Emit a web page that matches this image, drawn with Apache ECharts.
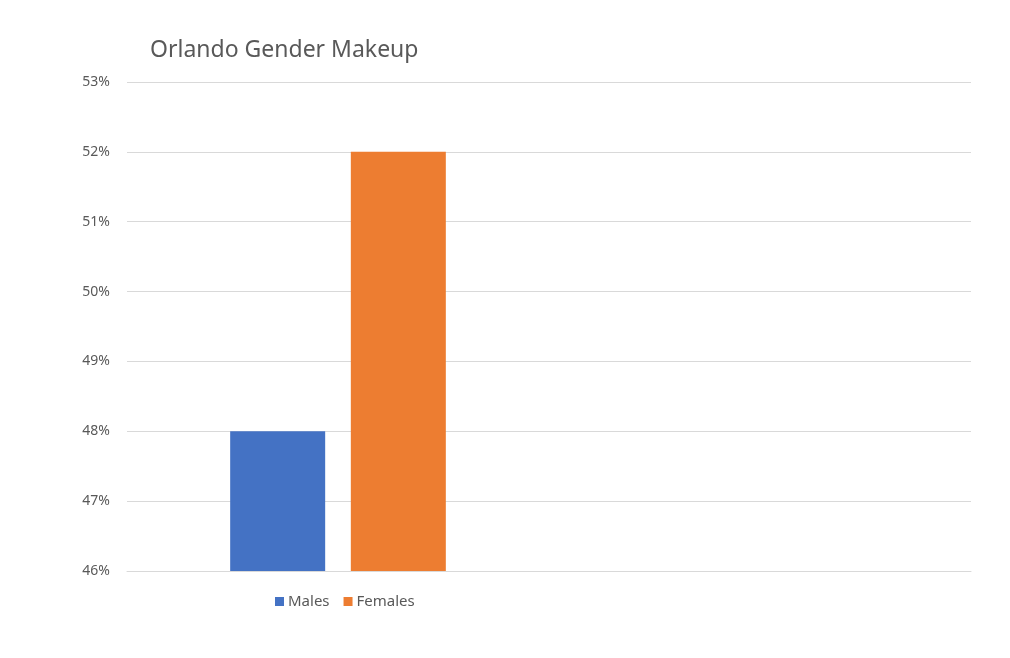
<!DOCTYPE html>
<html>
<head>
<meta charset="utf-8">
<script src="https://cdn.jsdelivr.net/npm/echarts@6/dist/echarts.min.js"></script>
<style>html,body{margin:0;padding:0;background:#fff}#c{width:1010px;height:658px}</style>
</head>
<body>
<div id="c"></div>
<script>
const categories = ["Orlando", ""];
const males = [48, null];
const females = [52, null];
const yTicks = { min: 46, max: 53, interval: 1 };

const chart = echarts.init(document.getElementById('c'), null, { renderer: 'canvas' });
chart.setOption({
  animation: false,
  backgroundColor: '#ffffff',
  title: {
    text: 'Orlando Gender Makeup',
    left: 145, top: 34,
    textStyle: { fontFamily: 'Noto Sans', fontSize: 23, fontWeight: 'normal', color: '#595959' }
  },
  legend: {
    left: 270, top: 589,
    itemWidth: 9, itemHeight: 9, itemGap: 14,
    icon: 'rect',
    textStyle: { fontFamily: 'Noto Sans', fontSize: 15, color: '#595959', padding: [0, 0, 0, -1] },
    data: ['Males', 'Females']
  },
  grid: { left: 127, right: 39, top: 82, bottom: 87, containLabel: false },
  xAxis: {
    type: 'category',
    data: categories,
    axisLine: { lineStyle: { color: '#d9d9d9' } },
    axisTick: { show: false },
    axisLabel: { show: false }
  },
  yAxis: {
    type: 'value',
    min: yTicks.min, max: yTicks.max, interval: yTicks.interval,
    axisLine: { show: false },
    axisTick: { show: false },
    axisLabel: { formatter: '{value}%', margin: 17, fontFamily: 'Noto Sans', fontSize: 14, color: '#595959' },
    splitLine: { lineStyle: { color: '#d9d9d9' } }
  },
  series: [
    { name: 'Males', type: 'bar', data: males, barWidth: 95, barGap: '27%', itemStyle: { color: '#4472c4' } },
    { name: 'Females', type: 'bar', data: females, barWidth: 95, itemStyle: { color: '#ed7d31' } }
  ]
});
</script>
</body>
</html>
